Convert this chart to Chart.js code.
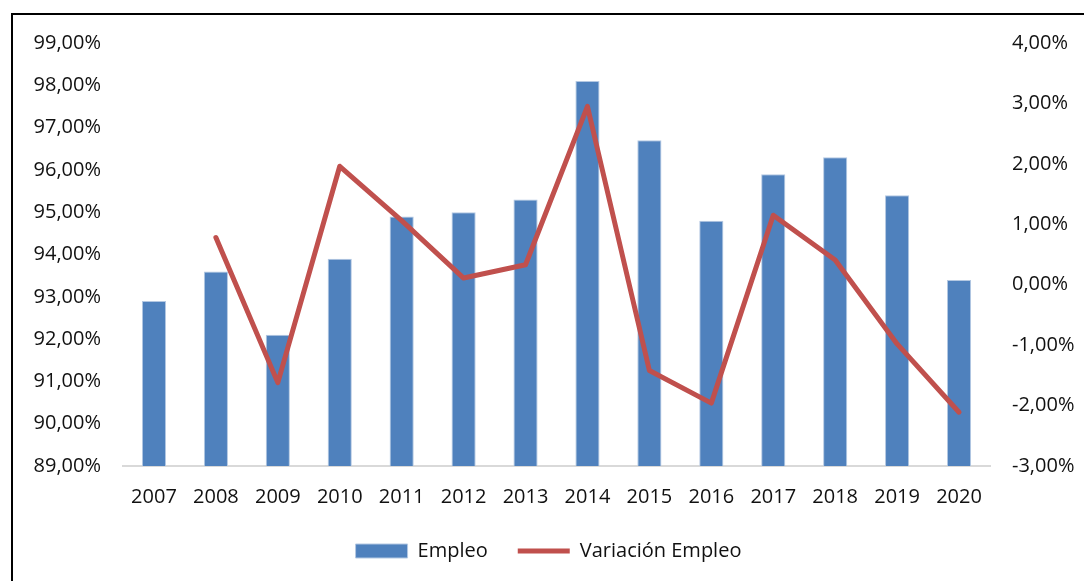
<!DOCTYPE html>
<html>
<head>
<meta charset="utf-8">
<script src="https://cdn.jsdelivr.net/npm/chart.js@4"></script>
<style>
body { margin: 0; background: #fff; }
#wrap { position: relative; width: 1084px; height: 581px; overflow: hidden; }
#frame { position: absolute; left: 11px; top: 13px; width: 1200px; height: 700px;
  border-top: 2px solid #000; border-left: 2px solid #000; }
canvas { position: absolute; left: 0; top: 0; }
</style>
</head>
<body>
<div id="wrap">
  <div id="frame"></div>
  <canvas id="myChart" width="1084" height="581"></canvas>
</div>
<script>
const years = ['2007', '2008', '2009', '2010', '2011', '2012', '2013', '2014', '2015', '2016', '2017', '2018', '2019', '2020'];
const empleo = [92.9, 93.6, 92.1, 93.9, 94.9, 95.0, 95.3, 98.1, 96.7, 94.8, 95.9, 96.3, 95.4, 93.4];
const variacion = [null, 0.78, -1.62, 1.96, 1.06, 0.11, 0.33, 2.95, -1.42, -1.96, 1.15, 0.41, -0.98, -2.11];

const fmt = v => v.toFixed(2).replace('.', ',') + '%';

Chart.defaults.font.family = '"Open Sans", sans-serif';
Chart.defaults.font.size = 20;
Chart.defaults.color = '#111';

let ctx = document.getElementById('myChart');
let myChart = new Chart(ctx, {
    data: {
        labels: years,
        datasets: [{
            type: 'line',
            label: 'Variación Empleo',
            data: variacion,
            yAxisID: 'y1',
            borderColor: '#C0504D',
            backgroundColor: '#C0504D',
            borderWidth: 5,
            borderCapStyle: 'round',
            borderJoinStyle: 'round',
            pointRadius: 0,
            pointStyle: 'line',
            tension: 0
        }, {
            type: 'bar',
            label: 'Empleo',
            data: empleo,
            yAxisID: 'y',
            backgroundColor: '#4F81BD',
            borderColor: '#B4C8E2',
            borderWidth: 1,
            pointStyle: 'rect',
            categoryPercentage: 1,
            barPercentage: 0.39
        }]
    },
    options: {
        responsive: false,
        devicePixelRatio: 1,
        animation: false,
        layout: { padding: { left: 13, top: 43, right: 0, bottom: 10 } },
        plugins: {
            tooltip: { enabled: false },
            legend: {
                position: 'bottom',
                labels: {
                    usePointStyle: true,
                    pointStyleWidth: 52,
                    boxHeight: 14,
                    padding: 30,
                    sort: (a, b) => b.datasetIndex - a.datasetIndex
                }
            }
        },
        scales: {
            x: {
                grid: { display: false, drawTicks: false },
                border: { color: '#D9D9D9', width: 2 },
                ticks: { padding: 19 },
                afterFit: s => { s.height = 45; }
            },
            y: {
                position: 'left',
                min: 89,
                max: 99,
                grid: { display: false, drawTicks: false },
                border: { display: false },
                ticks: { stepSize: 1, padding: 22, callback: v => fmt(v) },
                afterFit: s => { s.width = 110; }
            },
            y1: {
                position: 'right',
                min: -3,
                max: 4,
                grid: { display: false, drawTicks: false },
                border: { display: false },
                ticks: { stepSize: 1, padding: 22, callback: v => fmt(v) },
                afterFit: s => { s.width = 94; }
            }
        }
    }
});
</script>
</body>
</html>
